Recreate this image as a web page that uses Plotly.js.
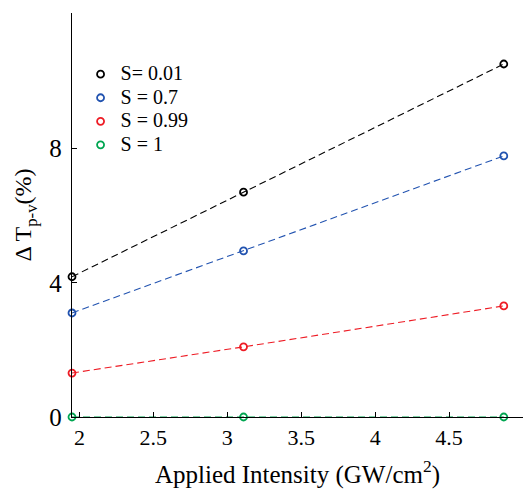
<!DOCTYPE html>
<html>
<head>
<meta charset="utf-8">
<script src="https://cdn.plot.ly/plotly-3.0.1.min.js"></script>
<style>html,body{margin:0;padding:0;background:#fff;}#chart{width:527px;height:489px;}</style>
</head>
<body>
<div id="chart"></div>
<script>
const intensity = [1.95, 3.11, 4.87];
const seriesNames = ["S= 0.01", "S = 0.7", "S = 0.99", "S = 1"];
const s001 = [4.18, 6.70, 10.52];
const s07 = [3.10, 4.95, 7.78];
const s099 = [1.31, 2.09, 3.31];
const s1 = [0, 0, 0];
const colors = ["#000000", "#2253b0", "#ee1c25", "#00a651"];
const xTickVals = [2, 2.5, 3, 3.5, 4, 4.5, 5];
const xTickText = ["2", "2.5", "3", "3.5", "4", "4.5", "5"];
const yTickVals = [0, 4, 8];

const allY = [s001, s07, s099, s1];
const marker = (c) => ({symbol: "circle-open", size: 7, color: c, line: {width: 1.8, color: c}});
const traces = allY.map((y, i) => ({
  x: intensity, y: y, name: seriesNames[i], type: "scatter", mode: "lines+markers", showlegend: false,
  line: {color: colors[i], width: 1.1, dash: "7px,4px"},
  marker: marker(colors[i]), cliponaxis: false
}));
const legendTraces = seriesNames.map((n, i) => ({
  x: [null], y: [null], name: '<span style="font-size:20px">' + n + '</span>',
  type: "scatter", mode: "markers", marker: marker(colors[i])
}));

const fam = "Liberation Serif";
const layout = {
  width: 527, height: 489,
  margin: {l: 72, r: 4, t: 13, b: 72},
  paper_bgcolor: "#fff", plot_bgcolor: "#fff",
  font: {family: fam, size: 20, color: "#000"},
  showlegend: true,
  legend: {x: 0.019, y: 0.89, xanchor: "left", yanchor: "top", bgcolor: "rgba(0,0,0,0)",
           font: {family: fam, size: 15.8, color: "#000"}, tracegroupgap: 0, itemwidth: 30},
  xaxis: {range: [1.95, 5], tickvals: xTickVals, ticktext: xTickText, ticks: "inside", ticklen: 5,
          tickcolor: "#000", showline: true, linecolor: "#000", linewidth: 1.2, showgrid: false, zeroline: false,
          tickfont: {family: fam, size: 22},
          title: {text: "Applied Intensity (GW/cm<sup>2</sup>)", font: {family: fam, size: 25}, standoff: 19}},
  yaxis: {range: [0, 12.04], tickvals: yTickVals, ticks: "inside", ticklen: 5, ticklabelstandoff: 4,
          tickcolor: "#000", showline: true, linecolor: "#000", linewidth: 1.2, showgrid: false, zeroline: false,
          tickfont: {family: fam, size: 25},
          title: {text: "\u0394 T<sub>p-v</sub>(%)", font: {family: fam, size: 24}, standoff: 10}}
};
Plotly.newPlot("chart", traces.concat(legendTraces), layout, {displayModeBar: false, staticPlot: true});
</script>
</body>
</html>
